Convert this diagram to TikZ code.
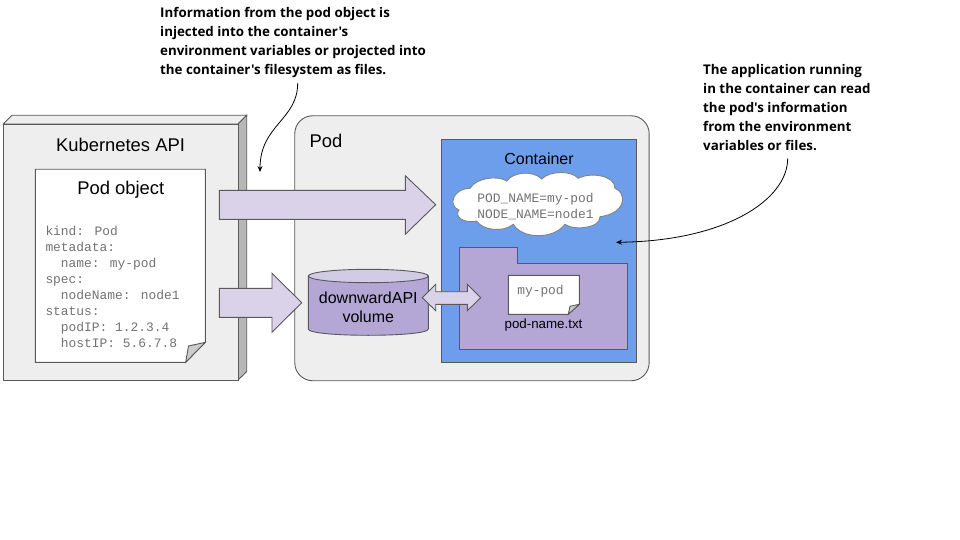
\documentclass[tikz,border=0pt]{standalone}
\usepackage{fontspec}
\setmainfont{Liberation Sans}
\newfontfamily\notefont{Open Sans}[BoldFont={* Bold}]
\newfontfamily\codefont{Liberation Mono}
\usetikzlibrary{shapes.geometric,arrows.meta}
\definecolor{edgegray}{HTML}{595959}
\definecolor{panelgray}{HTML}{EEEEEE}
\definecolor{sidegray}{HTML}{B7B7B7}
\definecolor{foldgray}{HTML}{CCCCCC}
\definecolor{lilac}{HTML}{D9D2E9}
\definecolor{violet}{HTML}{B4A7D6}
\definecolor{violettop}{HTML}{D2CBE6}
\definecolor{blueish}{HTML}{6D9EEB}
\definecolor{codegray}{HTML}{737373}
\tikzset{
  shape line/.style={draw=edgegray,line width=0.9pt,line join=miter},
  blockarrow/.style={shape line,fill=lilac},
  label big/.style={font=\fontsize{18.4}{22}\selectfont,text=black,inner sep=0pt},
  label mid/.style={font=\fontsize{16}{19}\selectfont,text=black,inner sep=0pt,align=center},
  label small/.style={font=\fontsize{13.33}{16}\selectfont,text=black,inner sep=0pt},
  code/.style={font=\codefont\fontsize{12.9}{16}\selectfont,text=codegray,inner sep=0pt,align=left},
  note/.style={font=\notefont\bfseries\fontsize{13.33}{19}\selectfont,text=black,inner sep=0pt,align=left,anchor=north west},
  noteline/.style={draw=black,line width=0.8pt,-{Stealth[length=6pt,width=5pt]}},
}
\begin{document}
\begin{tikzpicture}[x=1pt,y=-1pt]
\useasboundingbox (0,0) rectangle (960,540);
\fill[white] (0,0) rectangle (960,540);

% Kubernetes API box
\draw[shape line,fill=panelgray] (3.3,124) -- (12,115.3) -- (246.7,115.3) -- (238,124) -- cycle;
\draw[shape line,fill=sidegray] (238,124) -- (246.7,115.3) -- (246.7,371.6) -- (238,380) -- cycle;
\node[shape line,fill=panelgray,rectangle,inner sep=0pt,minimum width=234.7pt,minimum height=256pt,anchor=north west] (api) at (3.3,124) {};
\node[label big] (apilabel) at (120.5,145) {Kubernetes API};

% Pod object paper
\draw[shape line,fill=white] (35.3,169.3) -- (205.3,169.3) -- (205.3,342.3) -- (185.7,362.3) -- (35.3,362.3) -- cycle;
\draw[shape line,fill=foldgray] (185.7,362.3) -- (205.3,342.3) -- (188.5,346) -- cycle;
\node[label big] (objlabel) at (120.8,190) {Pod object};
\node[code,anchor=north west] (objcode) at (45.3,225.5) {kind: Pod\\metadata:\\\hspace*{15.4pt}name: my-pod\\spec:\\\hspace*{15.4pt}nodeName: node1\\status:\\\hspace*{15.4pt}podIP: 1.2.3.4\\\hspace*{15.4pt}hostIP: 5.6.7.8};

% Pod box
\node[shape line,fill=panelgray,rectangle,rounded corners=18pt,inner sep=0pt,minimum width=354.4pt,minimum height=265pt,anchor=north west] (pod) at (294.3,115.3) {};
\node[label big,anchor=west] (podlabel) at (309.5,141) {Pod};

% Container
\node[shape line,fill=blueish,rectangle,inner sep=0pt,minimum width=195pt,minimum height=223pt,anchor=north west] (container) at (441.3,139.3) {};
\node[label mid] (containerlabel) at (539,158.5) {Container};

% Cloud
\draw[draw=edgegray!75,line width=0.9pt,fill=white]
  (470,188.3)
  .. controls (476,178) and (497,175) .. (506.7,181)
  .. controls (513,172) and (533,170) .. (541.7,179)
  .. controls (549,171) and (571,170) .. (578.3,178.3)
  .. controls (590,172) and (615,175) .. (615,188.3)
  .. controls (626,192) and (628,213) .. (600,216.7)
  .. controls (601,228) and (574,231) .. (565,224.3)
  .. controls (553,240) and (522,239) .. (513.3,224.3)
  .. controls (503,233) and (482,230) .. (476.7,221)
  .. controls (463,224) and (454,216) .. (459,210)
  .. controls (448,206) and (452,189) .. (470,188.3)
  -- cycle;
\node[code,align=center] (cloudtext) at (535.5,206.5) {POD\_NAME=my-pod\\NODE\_NAME=node1};

% Folder
\draw[shape line,fill=violet] (459.3,247.3) -- (517.7,247.3) -- (517.7,263.3) -- (627.7,263.3) -- (627.7,349.3) -- (459.3,349.3) -- cycle;

% File
\draw[shape line,fill=white] (508.3,275.3) -- (579.3,275.3) -- (579.3,304.3) -- (568.3,314.3) -- (508.3,314.3) -- cycle;
\draw[shape line,fill=foldgray] (568.3,314.3) -- (579.3,304.3) -- (570,306.3) -- cycle;
\node[code] (filecode) at (540.5,291) {my-pod};
\node[label small] (filelabel) at (543.5,325) {pod-name.txt};

% Volume
\draw[shape line,fill=violet] (308.3,276) -- (308.3,329)
  .. controls (308.3,337.4) and (428.3,337.4) .. (428.3,329) -- (428.3,276) -- cycle;
\draw[shape line,fill=violettop] (368.3,276) ellipse[x radius=60,y radius=6.7];
\node[label mid] (volumelabel) at (368.3,307.5) {downwardAPI\\volume};

% Block arrows
\draw[blockarrow] (219.3,190.3) -- (405.3,190.3) -- (405.3,175.7) -- (435.7,204.7) -- (405.3,234.3) -- (405.3,219.3) -- (219.3,219.3) -- cycle;
\draw[blockarrow] (219.3,288.3) -- (272,288.3) -- (272,273.3) -- (301.7,302.7) -- (272,332.3) -- (272,317.3) -- (219.3,317.3) -- cycle;
\draw[blockarrow] (422.3,297.7) -- (435.7,284.3) -- (435.7,291.7) -- (467.3,291.7) -- (467.3,284.3) -- (480.7,297.7) -- (467.3,310.7) -- (467.3,304.3) -- (435.7,304.3) -- (435.7,310.7) -- cycle;

% Notes
\node[note] (note1) at (160,7) {Information from the pod object is\\injected into the container's\\environment variables or projected into\\the container's filesystem as files.};
\node[note] (note2) at (703,64.5) {The application running\\in the container can read\\the pod's information\\from the environment\\variables or files.};
\coordinate (note1end) at (297.7,83);
\coordinate (gap) at (260,172);
\coordinate (note2end) at (787.7,158.3);
\coordinate (containertarget) at (616,242.3);
\draw[noteline] (note1end) .. controls (297.7,120) and (260,125) .. (gap);
\draw[noteline] (note2end) .. controls (787.7,200) and (725,241) .. (containertarget);
\end{tikzpicture}
\end{document}
